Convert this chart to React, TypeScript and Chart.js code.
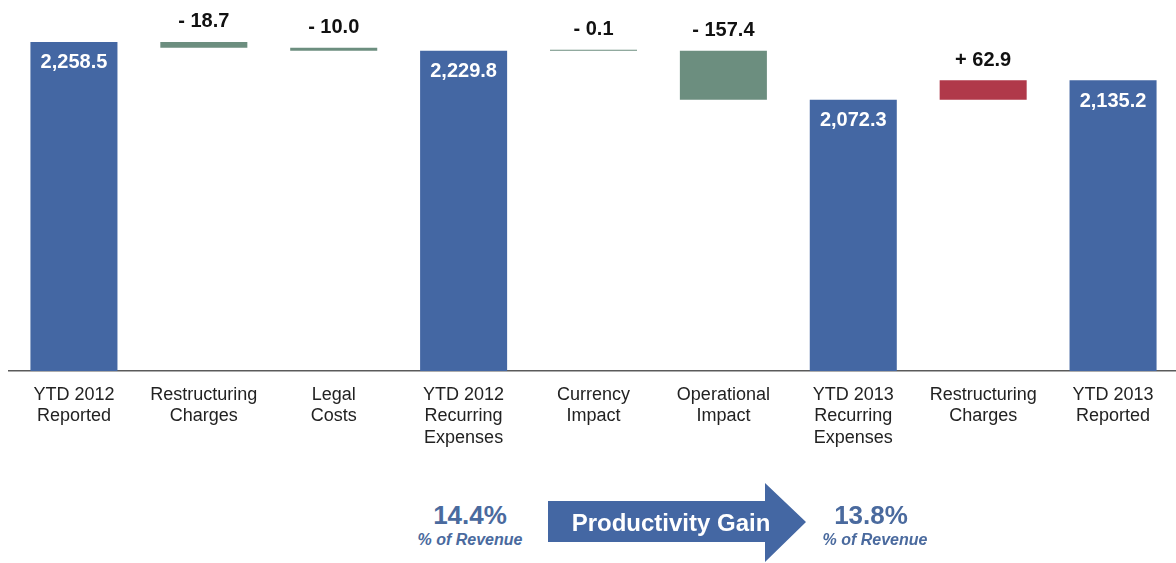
import React, { useEffect, useRef } from "react";
import { Chart, registerables } from "chart.js";

Chart.register(...registerables);

// ---- data ----
const categories: string[][] = [
  ["YTD 2012", "Reported"],
  ["Restructuring", "Charges"],
  ["Legal", "Costs"],
  ["YTD 2012", "Recurring", "Expenses"],
  ["Currency", "Impact"],
  ["Operational", "Impact"],
  ["YTD 2013", "Recurring", "Expenses"],
  ["Restructuring", "Charges"],
  ["YTD 2013", "Reported"],
];
// totals (null where the bar is a change step)
const totals: (number | null)[] = [2258.5, null, null, 2229.8, null, null, 2072.3, null, 2135.2];
// changes (null where the bar is a total)
const changes: (number | null)[] = [null, -18.7, -10.0, null, -0.1, -157.4, null, 62.9, null];

const revenueBefore = "14.4%";
const revenueAfter = "13.8%";
const revenueCaption = "% of Revenue";
const arrowText = "Productivity Gain";

const BLUE = "#4467A3";
const GREEN = "#6C8E7F";
const RED = "#B0394A";
const FONT = '"Liberation Sans", Arial, Helvetica, sans-serif';

function buildData() {
  const vals: (number | [number, number])[] = [];
  const colors: string[] = [];
  const texts: string[] = [];
  const kinds: string[] = [];
  let running = 0;
  for (let i = 0; i < categories.length; i++) {
    const t = totals[i];
    const c = changes[i];
    if (t !== null && t !== undefined) {
      running = t;
      vals.push(t);
      colors.push(BLUE);
      texts.push(t.toLocaleString("en-US", { minimumFractionDigits: 1, maximumFractionDigits: 1 }));
      kinds.push("total");
    } else {
      const ch = c as number;
      const start = running;
      const end = Math.round((running + ch) * 10) / 10;
      vals.push([Math.min(start, end), Math.max(start, end)]);
      colors.push(ch < 0 ? GREEN : RED);
      texts.push((ch < 0 ? "- " : "+ ") + Math.abs(ch).toFixed(1));
      kinds.push("change");
      running = end;
    }
  }
  return { vals, colors, texts, kinds };
}

export default function App() {
  const ref = useRef<HTMLCanvasElement | null>(null);

  useEffect(() => {
    if (!ref.current) return;
    const { vals, colors, texts, kinds } = buildData();

    const labelPlugin = {
      id: "wfLabels",
      afterDatasetsDraw(chart: any) {
        const ctx = chart.ctx;
        const meta = chart.getDatasetMeta(0);
        meta.data.forEach((bar: any, i: number) => {
          const p = bar.getProps(["x", "y", "base"], true);
          const top = Math.min(p.y, p.base);
          ctx.save();
          ctx.font = `bold 20px ${FONT}`;
          ctx.textAlign = "center";
          ctx.textBaseline = "middle";
          if (kinds[i] === "total") {
            ctx.fillStyle = "#ffffff";
            ctx.fillText(texts[i], p.x, top + 21);
          } else {
            ctx.fillStyle = "#111111";
            ctx.fillText(texts[i], p.x, top - 20);
          }
          ctx.restore();
        });
      },
    };

    const chart = new Chart(ref.current, {
      type: "bar",
      data: {
        labels: categories,
        datasets: [
          {
            data: vals as any,
            backgroundColor: colors,
            borderWidth: 0,
            categoryPercentage: 1,
            barPercentage: 0.67,
            minBarLength: 1,
          },
        ],
      },
      options: {
        animation: false,
        responsive: false,
        layout: { padding: { top: 29, left: 9, right: 2, bottom: 0 } },
        plugins: { legend: { display: false }, tooltip: { enabled: false } },
        scales: {
          x: {
            grid: { display: false, drawTicks: false },
            border: { display: true, color: "#5a5a5a", width: 1.5 },
            ticks: {
              autoSkip: false,
              maxRotation: 0,
              padding: 13,
              color: "#222222",
              font: { family: FONT, size: 18, lineHeight: 1.2 },
            },
            afterFit(scale: any) {
              scale.height = 89;
            },
          },
          y: {
            display: false,
            min: 1200,
            max: 2300,
          },
        },
      },
      plugins: [labelPlugin],
    });
    return () => chart.destroy();
  }, []);

  return (
    <div
      style={{
        position: "absolute",
        left: 0,
        top: 0,
        width: 1176,
        height: 563,
        overflow: "hidden",
        background: "#fff",
        fontFamily: FONT,
      }}
    >
      <canvas ref={ref} width={1180} height={460} style={{ position: "absolute", left: 0, top: 0, width: 1180, height: 460 }} />
      {/* left revenue */}
      <div style={{ position: "absolute", left: 390, width: 160, top: 500, textAlign: "center", color: "#4A6A9E" }}>
        <div style={{ fontWeight: "bold", fontSize: 26, lineHeight: "30px" }}>{revenueBefore}</div>
        <div style={{ fontWeight: "bold", fontStyle: "italic", fontSize: 16, lineHeight: "20px" }}>{revenueCaption}</div>
      </div>
      {/* arrow */}
      <svg width={1176} height={563} style={{ position: "absolute", left: 0, top: 0 }}>
        <polygon points="548,501 765,501 765,483 806,522 765,562 765,542 548,542" fill={BLUE} />
        <text x={671} y={531} textAnchor="middle" fill="#ffffff" fontWeight="bold" fontSize={24} fontFamily={FONT}>
          {arrowText}
        </text>
      </svg>
      {/* right revenue */}
      <div style={{ position: "absolute", left: 795, width: 160, top: 500, textAlign: "center", color: "#4A6A9E" }}>
        <div style={{ fontWeight: "bold", fontSize: 26, lineHeight: "30px", marginLeft: -8 }}>{revenueAfter}</div>
        <div style={{ fontWeight: "bold", fontStyle: "italic", fontSize: 16, lineHeight: "20px" }}>{revenueCaption}</div>
      </div>
    </div>
  );
}
